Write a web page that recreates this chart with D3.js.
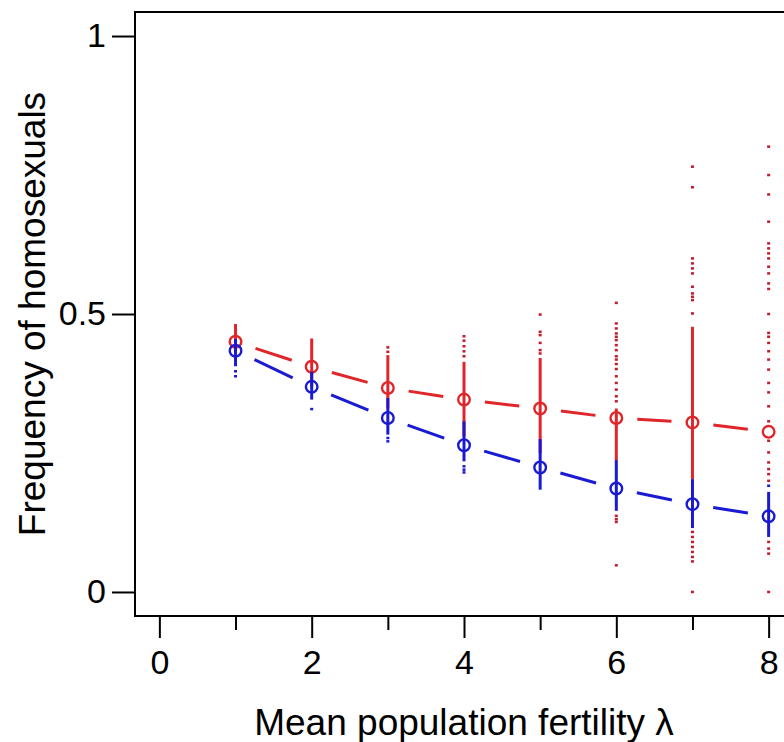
<!DOCTYPE html>
<html lang="en">
<head>
  <meta charset="UTF-8">
  <title>Frequency of homosexuals vs mean population fertility</title>
  <script src="https://d3js.org/d3.v7.min.js"></script>
  <style>
    body { margin: 0; background: #fff; }
    svg { display: block; font-family: "Liberation Sans", Arial, Helvetica, sans-serif; }
  </style>
</head>
<body>
  <script>
    // mean population fertility (x)
    const lambda = [1, 2, 3, 4, 5, 6, 7, 8];

    // means (circles joined by dashed lines)
    const redMean  = [0.450, 0.405, 0.367, 0.346, 0.330, 0.313, 0.305, 0.288];
    const blueMean = [0.434, 0.369, 0.313, 0.264, 0.224, 0.186, 0.158, 0.136];

    // dense part of the runs, drawn as one solid stroke [low, high]
    const redBand  = [[0.42, 0.482], [0.37, 0.456], [0.33, 0.426], [0.28, 0.414],
                      [0.25, 0.421], [0.236, 0.330], [0.203, 0.477], null];
    const blueBand = [[0.406, 0.455], [0.346, 0.396], [0.283, 0.349], [0.235, 0.307],
                      [0.184, 0.275], [0.146, 0.237], [0.115, 0.203], [0.099, 0.180]];

    // single runs away from the dense part
    const redDots = [
      [],
      [],
      [0.440, 0.432],
      [0.460, 0.452, 0.442, 0.433, 0.424],
      [0.499, 0.468, 0.462, 0.448, 0.435, 0.429],
      [0.520, 0.483, 0.474, 0.465, 0.459, 0.453, 0.444, 0.435, 0.424, 0.418, 0.410,
       0.401, 0.388, 0.376, 0.364, 0.352, 0.343, 0.137, 0.131, 0.126, 0.048],
      [0.765, 0.728, 0.600, 0.591, 0.582, 0.573, 0.549, 0.537, 0.531, 0.525, 0.501,
       0.108, 0.099, 0.090, 0.081, 0.072, 0.063, 0.055, 0.0],
      [0.801, 0.750, 0.715, 0.666, 0.627, 0.618, 0.609, 0.600, 0.585, 0.573, 0.555,
       0.545, 0.500, 0.466, 0.459, 0.448, 0.433, 0.418, 0.400, 0.376, 0.359, 0.334,
       0.307, 0.272, 0.251, 0.233, 0.221, 0.212, 0.200, 0.090, 0.078, 0.069, 0.0]
    ];
    const blueDots = [[0.397, 0.388], [0.329], [0.277, 0.271], [0.226, 0.220, 0.215],
                      [], [], [], [0.191]];

    const xTicks = [0, 2, 4, 6, 8];
    const xMinor = [1, 3, 5, 7];
    const yTicks = [0, 0.5, 1];

    const width = 784, height = 742;
    const plotL = 135, plotR = 793, plotT = 12, plotB = 616;

    const x = d3.scaleLinear().domain([-0.32, 8.32]).range([plotL, plotR]);
    const y = d3.scaleLinear().domain([-0.0432, 1.0432]).range([plotB, plotT]);

    const svg = d3.select("body").append("svg")
      .attr("width", width)
      .attr("height", height);

    const red = "#e0262a", redPt = "#c41c2c", blue = "#1a1ad2";

    function drawRuns(band, dots, col, ptCol) {
      const g = svg.append("g");
      g.selectAll("line")
        .data(lambda.map((l, i) => ({ l, b: band[i] })).filter(d => d.b))
        .join("line")
        .attr("x1", d => x(d.l)).attr("x2", d => x(d.l))
        .attr("y1", d => y(d.b[0])).attr("y2", d => y(d.b[1]))
        .attr("stroke", col)
        .attr("stroke-width", 3);
      const pts = [];
      dots.forEach((arr, i) => arr.forEach(v => pts.push({ l: lambda[i], v })));
      g.selectAll("rect")
        .data(pts)
        .join("rect")
        .attr("x", d => x(d.l) - 1.5)
        .attr("y", d => y(d.v) - 1.25)
        .attr("width", 3)
        .attr("height", 2.5)
        .attr("fill", ptCol);
    }

    function drawMeans(mean, col) {
      const g = svg.append("g");
      const p = lambda.map((l, i) => [x(l), y(mean[i])]);
      const gap = 21;
      const segs = d3.pairs(p).map(([a, b]) => {
        const dx = b[0] - a[0], dy = b[1] - a[1];
        const len = Math.hypot(dx, dy);
        return [a[0] + dx / len * gap, a[1] + dy / len * gap,
                b[0] - dx / len * gap, b[1] - dy / len * gap];
      });
      g.selectAll("line")
        .data(segs)
        .join("line")
        .attr("x1", d => d[0]).attr("y1", d => d[1])
        .attr("x2", d => d[2]).attr("y2", d => d[3])
        .attr("stroke", col)
        .attr("stroke-width", 3);
      g.selectAll("circle")
        .data(p)
        .join("circle")
        .attr("cx", d => d[0])
        .attr("cy", d => d[1])
        .attr("r", 5.8)
        .attr("fill", "none")
        .attr("stroke", col)
        .attr("stroke-width", 2.4);
    }

    drawRuns(redBand, redDots, red, redPt);
    drawMeans(redMean, red);
    drawRuns(blueBand, blueDots, blue, blue);
    drawMeans(blueMean, blue);

    // frame
    svg.append("rect")
      .attr("x", plotL).attr("y", plotT)
      .attr("width", plotR - plotL).attr("height", plotB - plotT)
      .attr("fill", "none")
      .attr("stroke", "#000")
      .attr("stroke-width", 2);

    // axes
    svg.append("g")
      .attr("transform", `translate(0,${plotB})`)
      .call(d3.axisBottom(x).tickValues(xTicks).tickSize(22).tickPadding(12)
        .tickFormat(d3.format("d")));
    svg.append("g")
      .attr("transform", `translate(0,${plotB})`)
      .call(d3.axisBottom(x).tickValues(xMinor).tickSize(14).tickFormat(""));
    svg.append("g")
      .attr("transform", `translate(${plotL},0)`)
      .call(d3.axisLeft(y).tickValues(yTicks).tickSize(23).tickPadding(6)
        .tickFormat(d => d === 0.5 ? "0.5" : d3.format("d")(d)));

    svg.selectAll(".domain").remove();
    svg.selectAll(".tick line").attr("stroke", "#000").attr("stroke-width", 2);
    svg.selectAll(".tick text")
      .attr("fill", "#000")
      .style("font-size", "34px")
      .style("font-family", "'Liberation Sans', Arial, sans-serif");

    svg.append("text")
      .attr("x", (plotL + plotR) / 2)
      .attr("y", 735)
      .attr("text-anchor", "middle")
      .style("font-size", "37px")
      .text("Mean population fertility λ");

    svg.append("text")
      .attr("transform", `translate(45,${(plotT + plotB) / 2}) rotate(-90)`)
      .attr("text-anchor", "middle")
      .style("font-size", "37px")
      .text("Frequency of homosexuals");
  </script>
</body>
</html>
